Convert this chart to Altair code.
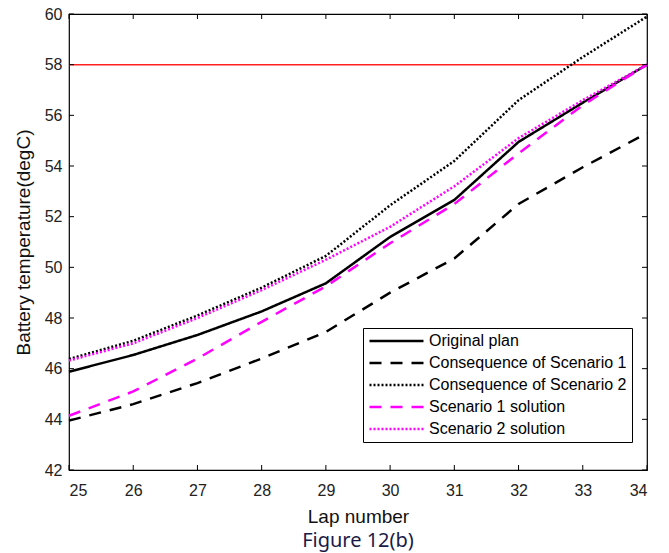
import altair as alt
import pandas as pd

laps = [25, 26, 27, 28, 29, 30, 31, 32, 33, 34]
original_plan = [45.88, 46.54, 47.33, 48.26, 49.37, 51.2, 52.66, 54.95, 56.5, 58.0]
consequence_1 = [43.95, 44.6, 45.43, 46.4, 47.45, 49.0, 50.35, 52.5, 53.95, 55.3]
consequence_2 = [46.38, 47.1, 48.1, 49.2, 50.45, 52.45, 54.2, 56.6, 58.3, 59.9]
scenario1_sol = [44.14, 45.1, 46.4, 47.85, 49.25, 50.95, 52.5, 54.5, 56.4, 58.0]
scenario2_sol = [46.32, 47.0, 48.0, 49.1, 50.3, 51.6, 53.2, 55.1, 56.6, 58.0]

series_names = ["Original plan", "Consequence of Scenario 1", "Consequence of Scenario 2",
                "Scenario 1 solution", "Scenario 2 solution"]
series_values = [original_plan, consequence_1, consequence_2, scenario1_sol, scenario2_sol]
series_colors = ["#000000", "#000000", "#000000", "#ff00ff", "#ff00ff"]
series_dashes = [[1, 0], [12, 9], [2, 2], [12, 9], [2, 2]]
series_widths = [2.5, 2.5, 3, 3, 3]

limit_value = [58]
x_ticks = [25, 26, 27, 28, 29, 30, 31, 32, 33, 34]
y_ticks = [42, 44, 46, 48, 50, 52, 54, 56, 58, 60]

rows = []
for name, vals in zip(series_names, series_values):
    for lap, v in zip(laps, vals):
        rows.append({"lap": lap, "temp": v, "series": name})
df = pd.DataFrame(rows)

W, H = 578, 456
FONT = "Liberation Sans"

xscale = alt.Scale(domain=[25, 34], nice=False, zero=False)
yscale = alt.Scale(domain=[42, 60], nice=False, zero=False)

leg = alt.Legend(
    title=None, orient="none", legendX=294, legendY=314,
    symbolType="stroke", symbolSize=2916, symbolStrokeWidth=2.5,
    clipHeight=16, rowPadding=6, labelOffset=4,
    labelFont=FONT, labelFontSize=16, labelColor="#000",
    padding=5, strokeColor="#000", fillColor="#fff", cornerRadius=0,
    labelLimit=400,
)

axis_style = dict(labelFont=FONT, labelFontSize=16, labelColor="#222",
                  titleFont=FONT, titleFontSize=19, titleFontWeight="normal",
                  titleColor="#111", tickSize=0, grid=False, domain=False, format="d")

xaxis = alt.Axis(values=x_ticks, title="Lap number", labelPadding=12, titlePadding=9, **axis_style)
yaxis = alt.Axis(values=y_ticks, title="Battery temperature(degC)", labelPadding=7,
                 titlePadding=11, **axis_style)

lines = alt.Chart(df).mark_line(strokeCap="butt").encode(
    x=alt.X("lap:Q", scale=xscale, axis=xaxis),
    y=alt.Y("temp:Q", scale=yscale, axis=yaxis),
    color=alt.Color("series:N", scale=alt.Scale(domain=series_names, range=series_colors), legend=leg),
    strokeDash=alt.StrokeDash("series:N", scale=alt.Scale(domain=series_names, range=series_dashes), legend=leg),
    strokeWidth=alt.StrokeWidth("series:N", scale=alt.Scale(domain=series_names, range=series_widths), legend=None),
    order=alt.Order("lap:Q"),
)

red = alt.Chart(pd.DataFrame({"y": limit_value})).mark_rule(color="#ff2020", strokeWidth=1.5).encode(
    y=alt.Y("y:Q", scale=yscale)
)

xt = pd.DataFrame({"v": x_ticks})
yt = pd.DataFrame({"v": y_ticks})
tick_bottom = alt.Chart(xt).mark_rule(color="#000", strokeWidth=1).encode(
    x=alt.X("v:Q", scale=xscale), y=alt.value(H), y2=alt.value(H - 5))
tick_top = alt.Chart(xt).mark_rule(color="#000", strokeWidth=1).encode(
    x=alt.X("v:Q", scale=xscale), y=alt.value(0), y2=alt.value(5))
tick_left = alt.Chart(yt).mark_rule(color="#000", strokeWidth=1).encode(
    y=alt.Y("v:Q", scale=yscale), x=alt.value(0), x2=alt.value(5))
tick_right = alt.Chart(yt).mark_rule(color="#000", strokeWidth=1).encode(
    y=alt.Y("v:Q", scale=yscale), x=alt.value(W), x2=alt.value(W - 5))

chart = alt.layer(red, lines, tick_bottom, tick_top, tick_left, tick_right).properties(
    width=W, height=H,
    padding={"left": 69, "top": 14, "right": 22, "bottom": 83},
    autosize=alt.AutoSizeParams(type="none"),
    background="white",
    title=alt.Title("Figure 12(b)", orient="bottom", anchor="middle", font="Noto Sans",
                    fontSize=20, fontWeight="normal", color="#1a1a48", offset=5),
).configure_view(stroke="#000", strokeWidth=1.2)

chart.save("out.html", embed_options={"renderer": "svg", "actions": False})
